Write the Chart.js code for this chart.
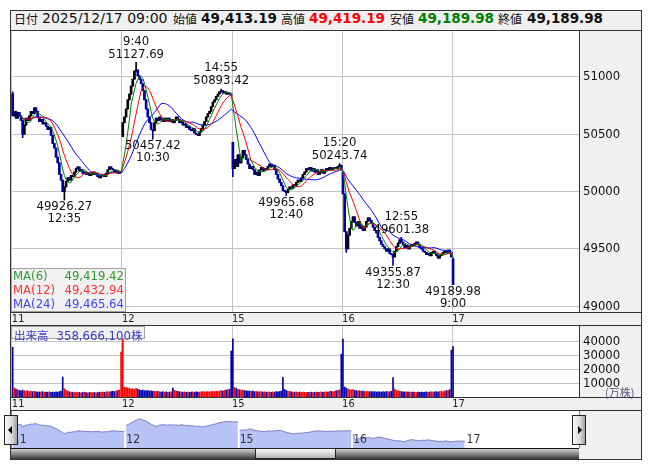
<!DOCTYPE html>
<html>
<head>
<meta charset="utf-8">
<script src="https://cdn.jsdelivr.net/npm/chart.js@4.4.1/dist/chart.umd.min.js"></script>
<style>
  body { margin: 0; background: #fff; }
  #wrap { position: relative; width: 653px; height: 470px; overflow: hidden; background: #fff; }
  .abs { position: absolute; }
  canvas { position: absolute; display: block; }
  .hline { position: absolute; left: 10px; width: 632px; height: 1px; background: #333; }
  .hdr { position: absolute; top: 10px; height: 20px; line-height: 20px; white-space: nowrap; }
  .jp { font: 12px 'Noto Sans CJK JP', sans-serif; color: #111; }
  .dt { font: 14px 'DejaVu Sans', sans-serif; color: #111; }
  .val { font: bold 13.5px 'DejaVu Sans', sans-serif; color: #111; }
  .num { font-family: 'DejaVu Sans Condensed', 'Liberation Sans', sans-serif; font-size: 13px; }
  .btn { position: absolute; top: 415px; width: 12px; height: 28px; border: 1px solid #222;
         background: linear-gradient(to right, #fafafa, #d8d8d8 60%, #a0a0a0); }
</style>
</head>
<body>
<div id="wrap">
  <div class="abs" style="left:10px;top:10px;width:632px;height:450px;box-sizing:border-box;border:1px solid #333;background:#f0f0f0;"></div>

  <canvas id="main" width="630" height="294" style="left:11px;top:31px;"></canvas>
  <canvas id="vol" width="630" height="84" style="left:11px;top:326px;"></canvas>
  <canvas id="nav" width="568" height="37" style="left:11px;top:411px;"></canvas>

  <!-- header -->
  <div class="hdr jp" style="left:14px;">日付</div>
  <div class="hdr dt" style="left:42px;">2025/12/17 09:00</div>
  <div class="hdr jp" style="left:173px;">始値</div>
  <div class="hdr val" style="left:201px;">49,413.19</div>
  <div class="hdr jp" style="left:281px;">高値</div>
  <div class="hdr val" style="left:309px;color:#ff0000;">49,419.19</div>
  <div class="hdr jp" style="left:390px;">安値</div>
  <div class="hdr val" style="left:418px;color:#008000;">49,189.98</div>
  <div class="hdr jp" style="left:498px;">終値</div>
  <div class="hdr val" style="left:527px;">49,189.98</div>

  <div class="hline" style="top:30px;"></div>
  <div class="hline" style="top:312px;"></div>
  <div class="hline" style="top:325px;"></div>
  <div class="hline" style="top:397px;"></div>
  <div class="hline" style="top:410px;"></div>

  <!-- MA legend -->
  <div class="abs num" style="left:11px;top:268px;width:115px;height:44px;box-sizing:border-box;border:1px solid #a0a0a0;background:rgba(240,240,240,0.92);line-height:14px;">
    <div style="position:relative;height:14px;color:#339933;"><span style="position:absolute;left:1px;">MA(6)</span><span style="position:absolute;right:1px;">49,419.42</span></div>
    <div style="position:relative;height:14px;color:#ff3333;"><span style="position:absolute;left:1px;">MA(12)</span><span style="position:absolute;right:1px;">49,432.94</span></div>
    <div style="position:relative;height:14px;color:#4444ff;"><span style="position:absolute;left:1px;">MA(24)</span><span style="position:absolute;right:1px;">49,465.64</span></div>
  </div>

  <!-- volume label -->
  <div class="abs" style="left:11px;top:326px;width:134px;height:13px;box-sizing:border-box;border:1px solid #a0a0a0;background:#f0f0f0;line-height:11px;color:#3c3cc8;white-space:nowrap;">
    <span class="jp" style="color:#3c3cc8;font-size:11.5px;margin-left:2px;">出来高</span><span class="num" style="margin-left:8px;">358,666,100</span><span class="jp" style="color:#3c3cc8;font-size:11.5px;">株</span>
  </div>
  <div class="abs jp" style="left:605px;top:384px;font-size:11px;color:#555a80;">(万株)</div>

  <!-- navigator decorations -->
  <div class="abs" style="left:11px;top:411px;width:1px;height:37px;background:#2aa0d8;"></div>
  <div class="abs" style="left:579px;top:411px;width:1px;height:37px;background:#2aa0d8;"></div>
  <div class="abs" style="left:11px;top:448px;width:568px;height:11px;box-sizing:border-box;border-top:1px solid #111;background:linear-gradient(to bottom,#d0d0d0,#3a3a3a);"></div>
  <div class="abs" style="left:255px;top:448px;width:81px;height:11px;box-sizing:border-box;border:1px solid #222;background:linear-gradient(to bottom,#fafafa,#b4b4b4);"></div>
  <div class="btn" style="left:4px;"><div style="position:absolute;left:3px;top:10px;width:0;height:0;border-top:4px solid transparent;border-bottom:4px solid transparent;border-right:4px solid #000;"></div></div>
  <div class="btn" style="left:572px;"><div style="position:absolute;left:5px;top:10px;width:0;height:0;border-top:4px solid transparent;border-bottom:4px solid transparent;border-left:4px solid #000;"></div></div>
</div>

<script>
// ---- data (5-minute bars, 66 per day) ----
const dayLabels = ['11', '12', '15', '16', '17'];
const dayStarts = [0, 66, 132, 198, 264];

const close11 = [50660,50700,50640,50690,50660,50620,50500,50580,50640,50620,
  50660,50700,50680,50730,50700,50650,50610,50630,50590,50600,
  50570,50540,50560,50490,50420,50380,50300,50250,50150,50100,
  50000,50040,50090,50120,50100,50140,50130,50170,50200,50215,
  50180,50190,50160,50170,50150,50160,50140,50150,50170,50150,
  50160,50130,50120,50140,50150,50130,50160,50190,50215,50200,
  50190,50170,50180,50160,50170,50170];
const close12 = [50600,50650,50720,50800,50850,50920,50980,51050,51060,51010,
  50980,50940,50880,50800,50720,50650,50600,50540,50530,50600,
  50640,50620,50650,50630,50610,50640,50620,50640,50610,50630,
  50600,50620,50650,50630,50600,50610,50580,50590,50560,50570,
  50540,50530,50550,50510,50500,50490,50520,50550,50580,50610,
  50650,50680,50700,50740,50780,50800,50830,50850,50870,50880,
  50860,50870,50850,50860,50850,50840];
const close15 = [50200,50280,50220,50320,50250,50300,50360,50320,50280,50240,
  50200,50220,50190,50150,50170,50140,50190,50210,50180,50200,
  50190,50220,50240,50220,50230,50190,50150,50110,50080,50050,
  50010,50000,49990,50020,50040,50030,50060,50050,50080,50100,
  50090,50120,50150,50170,50200,50190,50210,50180,50200,50170,
  50190,50150,50170,50190,50160,50180,50200,50190,50210,50190,
  50200,50210,50200,50220,50230,50190];
const close16 = [49980,49650,49500,49620,49680,49740,49780,49730,49700,49740,
  49680,49700,49660,49690,49740,49770,49750,49720,49690,49660,
  49640,49600,49570,49540,49520,49500,49480,49500,49460,49450,
  49430,49480,49520,49550,49580,49560,49540,49510,49530,49500,
  49520,49540,49530,49550,49560,49540,49510,49500,49480,49470,
  49450,49460,49440,49470,49480,49460,49440,49420,49440,49450,
  49470,49480,49470,49490,49460,49430];
const close17 = [49189.98];

// opens that differ from the previous close, and visible highs / lows  [bar, value]
const openFix = [[0, 50850], [66, 50480], [132, 50430], [198, 50170], [264, 49413.19]];
const highFix = [[0, 50870], [74, 51127.69], [125, 50893.42], [196, 50243.74], [233, 49601.38], [264, 49419.19]];
const lowFix = [[6, 50470], [31, 49926.27], [84, 50457.42], [132, 50130], [164, 49965.68], [200, 49470], [228, 49355.87], [264, 49189.98]];

// volume, 万株
const vol11 = [36000,6500,5800,5200,4800,4500,5000,4600,4200,4400,
  4000,4300,3900,4100,3800,3600,3700,3500,3900,3400,
  3600,3500,3800,3300,3600,3400,3700,3500,3900,4200,
  14500,6000,4800,4200,3800,3600,3500,3300,3600,3200,
  3400,3100,3300,3500,3200,3000,3200,3400,3100,3300,
  3000,3200,3500,3300,3600,3400,3700,3900,3600,4000,
  4200,3900,4400,4600,5200,32500];
const vol12 = [60000,7000,6800,6500,6200,5800,6000,5500,6200,5600,
  5200,4800,5000,4600,4400,4700,4300,4500,4100,4200,
  3900,4000,3800,3600,3900,3500,3700,3400,3600,3800,
  6500,4800,4200,4000,3800,3600,3500,3700,3400,3600,
  3300,3500,3700,3400,3800,3600,3500,3700,3900,3600,
  3800,4000,3700,3900,4100,3800,4200,4000,4400,4600,
  4300,4800,5000,5300,5600,33300];
const vol15 = [42100,6800,6200,5600,5200,4900,5100,4700,4500,4300,
  4400,4100,4200,3900,4000,3800,3700,3900,3600,3800,
  3500,3600,3700,3400,3800,3500,3900,3700,4000,4300,
  14300,5600,4700,4300,4000,3800,3600,3500,3700,3400,
  3600,3300,3500,3400,3200,3400,3300,3500,3200,3400,
  3600,3300,3500,3700,3400,3600,3800,3500,3900,4100,
  3800,4200,4500,4800,5200,31000];
const vol16 = [42000,7200,6400,5800,5400,5000,5300,4800,4600,4400,
  4500,4200,4300,4000,4100,3900,3800,4000,3700,3900,
  3600,3700,3800,3500,3900,3600,4000,3700,3800,4100,
  14000,5800,4800,4400,4100,3900,3700,3600,3800,3500,
  3700,3400,3600,3500,3300,3500,3400,3600,3300,3500,
  3700,3400,3600,3800,3500,3700,3900,3600,4000,4200,
  3900,4300,4600,4900,5300,34000];
const vol17 = [36500];

// high / low callouts: bar, value, time, below the bar?
const peaks = [
  [31, 49926.27, '12:35', true],
  [74, 51127.69, '9:40', false],
  [84, 50457.42, '10:30', true],
  [125, 50893.42, '14:55', false],
  [164, 49965.68, '12:40', true],
  [196, 50243.74, '15:20', false],
  [228, 49355.87, '12:30', true],
  [233, 49601.38, '12:55', false],
  [264, 49189.98, '9:00', true]
];

const priceTicks = [49000, 49500, 50000, 50500, 51000];
const volTicks = [10000, 20000, 30000, 40000];

// ---- build ----
const F = "'DejaVu Sans Condensed', 'Liberation Sans', sans-serif";
const dayCloses = [close11, close12, close15, close16, close17];
const closes = dayCloses.flat();
const vols = [vol11, vol12, vol15, vol16, vol17].flat();

const opens = closes.map((c, k) => k === 0 ? c : closes[k - 1]);
openFix.forEach(([k, v]) => { opens[k] = v; });
const highs = closes.map((c, k) => Math.max(c, opens[k]));
const lows = closes.map((c, k) => Math.min(c, opens[k]));
highFix.forEach(([k, v]) => { highs[k] = Math.max(highs[k], v); });
lowFix.forEach(([k, v]) => { lows[k] = Math.min(lows[k], v); });
const up = closes.map((c, k) => c >= opens[k]);

const wicks = closes.map((c, k) => ({ x: k + 0.5, y: [lows[k], highs[k]] }));
const bodies = closes.map((c, k) => ({ x: k + 0.5, y: [opens[k], c] }));
const candleColors = up.map(u => u ? '#000000' : '#0000a0');

function ma(n) {
  const out = [];
  for (let k = 5; k < closes.length; k++) {
    const w = closes.slice(Math.max(0, k - n + 1), k + 1);
    out.push({ x: k + 0.5, y: w.reduce((a, b) => a + b, 0) / w.length });
  }
  return out;
}

const whiteArea = {
  id: 'whiteArea',
  beforeDraw(c) {
    const a = c.chartArea, ctx = c.ctx;
    ctx.save();
    ctx.fillStyle = '#fff';
    ctx.fillRect(a.left, a.top, a.right - a.left, a.bottom - a.top);
    ctx.restore();
  }
};

const peakLabels = {
  id: 'peakLabels',
  afterDatasetsDraw(c) {
    const ctx = c.ctx, xs = c.scales.x, ys = c.scales.y;
    ctx.save();
    ctx.font = '13px ' + F;
    ctx.fillStyle = '#111';
    ctx.textAlign = 'center';
    ctx.textBaseline = 'middle';
    peaks.forEach(([k, v, t, below]) => {
      const x = xs.getPixelForValue(k + 0.5), y = ys.getPixelForValue(v);
      if (below) {
        ctx.fillText(v.toFixed(2), x, y + 7);
        ctx.fillText(t, x, y + 19);
      } else {
        ctx.fillText(v.toFixed(2), x, y - 8);
        ctx.fillText(t, x, y - 21);
      }
    });
    ctx.restore();
  }
};

function noPad(s) {
  s.paddingTop = 0; s.paddingBottom = 0; s.paddingLeft = 0; s.paddingRight = 0;
}

function dayAxis(max) {
  return {
    type: 'linear', min: -0.5, max: max, offset: false, position: 'bottom',
    grid: { color: '#c4c4c4', drawTicks: false, offset: false },
    border: { display: false },
    afterBuildTicks: s => { s.ticks = dayStarts.map(v => ({ value: v })); },
    afterFit: s => { s.height = 13; noPad(s); },
    ticks: {
      callback: v => dayLabels[dayStarts.indexOf(v)],
      align: 'start', padding: 1, maxRotation: 0, autoSkip: false,
      font: { family: F, size: 11 }, color: '#222'
    }
  };
}

function rightAxis(min, max, ticks) {
  return {
    position: 'right', min: min, max: max,
    grid: { color: '#c4c4c4', drawTicks: false },
    border: { display: true, color: '#333' },
    afterBuildTicks: s => { s.ticks = ticks.map(v => ({ value: v })); },
    afterFit: s => { s.width = 62; noPad(s); },
    ticks: { callback: v => String(v), padding: 4, font: { family: F, size: 13 }, color: '#111' }
  };
}

const common = {
  responsive: false, animation: false, devicePixelRatio: 1,
  layout: { padding: 0 },
  plugins: { legend: { display: false }, tooltip: { enabled: false } }
};

new Chart(document.getElementById('main'), {
  type: 'bar',
  data: {
    datasets: [
      { type: 'line', data: ma(6), borderColor: '#008000', borderWidth: 1, pointRadius: 0, order: 1 },
      { type: 'line', data: ma(12), borderColor: '#ff0000', borderWidth: 1, pointRadius: 0, order: 1 },
      { type: 'line', data: ma(24), borderColor: '#0000ff', borderWidth: 1, pointRadius: 0, order: 1 },
      { data: wicks, backgroundColor: candleColors, barThickness: 1, grouped: false, order: 3 },
      { data: bodies, backgroundColor: candleColors, barThickness: 2, grouped: false, order: 2 }
    ]
  },
  options: Object.assign({}, common, {
    scales: { x: dayAxis(340), y: rightAxis(48950, 51400, priceTicks) }
  }),
  plugins: [whiteArea, peakLabels]
});

new Chart(document.getElementById('vol'), {
  type: 'bar',
  data: {
    datasets: [{
      data: vols.map((v, k) => ({ x: k + 0.5, y: v })),
      backgroundColor: up.map(u => u ? '#ff0000' : '#0000b0'),
      barThickness: 1, grouped: false
    }]
  },
  options: Object.assign({}, common, {
    scales: { x: dayAxis(340), y: rightAxis(0, 51400, volTicks) }
  }),
  plugins: [whiteArea]
});

const navLabels = {
  id: 'navLabels',
  afterDraw(c) {
    const ctx = c.ctx, xs = c.scales.x, a = c.chartArea;
    ctx.save();
    ctx.font = '12px ' + F;
    ctx.fillStyle = '#333';
    ctx.textAlign = 'left';
    ctx.textBaseline = 'middle';
    dayStarts.forEach((v, i) => ctx.fillText(dayLabels[i], xs.getPixelForValue(v) + 1, a.bottom - 8));
    ctx.restore();
  }
};

new Chart(document.getElementById('nav'), {
  type: 'line',
  data: {
    datasets: dayCloses.map((arr, d) => ({
      data: arr.map((c, i) => ({ x: dayStarts[d] + i + 0.5, y: c })),
      borderColor: '#7a7ac8', borderWidth: 1, backgroundColor: '#b6c3f4',
      fill: 'start', pointRadius: 0
    }))
  },
  options: Object.assign({}, common, {
    scales: {
      x: { type: 'linear', display: false, min: -0.5, max: 330 },
      y: { display: false, min: 48980, max: 51630 }
    }
  }),
  plugins: [whiteArea, navLabels]
});
</script>
</body>
</html>
